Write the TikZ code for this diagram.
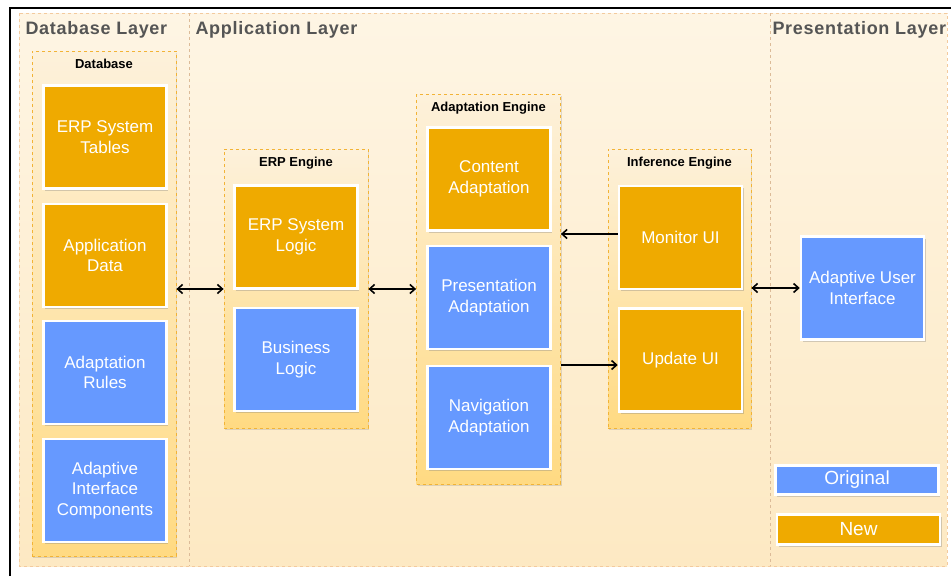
\documentclass[tikz,border=0pt]{standalone}
\usepackage{fontspec}
\setmainfont{Liberation Sans}
\usetikzlibrary{arrows.meta,shadows}

\definecolor{neworange}{HTML}{EFAA00}
\definecolor{origblue}{HTML}{6699FF}
\definecolor{layeredge}{HTML}{F3CA9E}
\definecolor{layertop}{HTML}{FEF5E4}
\definecolor{layerbot}{HTML}{FDE9C3}
\definecolor{engedge}{HTML}{F2B336}
\definecolor{engtop}{HTML}{FDF1DB}
\definecolor{engbot}{HTML}{FFDA82}
\definecolor{titlegray}{HTML}{555555}

\tikzset{
	layertitle/.style={anchor=west, text=titlegray, font=\fontsize{18}{21}\selectfont\bfseries\addfontfeatures{LetterSpace=4}},
	engine/.style={draw=engedge, dashed, thick, top color=engtop, bottom color=engbot, minimum width=144pt,
		drop shadow={shadow xshift=1pt, shadow yshift=-1.5pt, opacity=.25}},
	enginetitle/.style={below, yshift=-5pt, font=\fontsize{13}{15}\selectfont\bfseries},
	unit/.style={draw=white, line width=2.5pt, minimum width=123pt, minimum height=103pt, align=center,
		text=white, font=\fontsize{17}{20.5}\selectfont,
		drop shadow={shadow xshift=1.5pt, shadow yshift=-2pt, opacity=.35}},
	newunit/.style={unit, fill=neworange},
	origunit/.style={unit, fill=origblue},
	link/.style={line width=1.6pt, >={Straight Barb[length=5pt,width=9pt]}}
}

\begin{document}
\begin{tikzpicture}[x=1pt, y=-1pt]
		\useasboundingbox (0,0) rectangle (951,576);
		%frame and layers
		\draw[line width=2.5pt] (10,576) -- (10,8) -- (951,8);
		\path[top color=layertop, bottom color=layerbot] (19,13) rectangle (947,566);
		\draw[layeredge, dashed, thick] (19,13) rectangle (947,566);
		\foreach \x in {189, 770}{
			\draw[layeredge!80!gray, dashed] (\x,13)--(\x,566);
		}
		\node[layertitle] (dblayer) at (22,30){Database Layer};
		\node[layertitle] (applayer) at (192,30){Application Layer};
		\node[layertitle] (prelayer) at (769,30){Presentation Layer};
		
		%engines
		\node[engine, minimum height=505pt] (db) at (104,303.5){};
		\node[engine, minimum height=279pt] (erp) at (296,288.5){};
		\node[engine, minimum height=390pt] (adapt) at (488.5,289){};
		\node[engine, minimum width=143pt, minimum height=279pt] (infer) at (679.5,288.5){};
		\node[enginetitle] (dbtitle) at (db.north){Database};
		\node[enginetitle] (erptitle) at (erp.north){ERP Engine};
		\node[enginetitle] (adapttitle) at (adapt.north){Adaptation Engine};
		\node[enginetitle] (infertitle) at (infer.north){Inference Engine};
		
		%units
		\node[newunit] (tables) at (105,137){ERP System\\Tables};
		\node[newunit] (appdata) at (105,255.5){Application\\Data};
		\node[origunit] (rules) at (105,372.5){Adaptation\\Rules};
		\node[origunit] (components) at (105,490.5){Adaptive\\Interface\\Components};
		\node[newunit] (erplogic) at (296,237){ERP System\\Logic};
		\node[origunit] (business) at (296,359.5){Business\\Logic};
		\node[newunit] (content) at (489,179){Content\\Adaptation};
		\node[origunit] (presentation) at (489,297.5){Presentation\\Adaptation};
		\node[origunit] (navigation) at (489,417.5){Navigation\\Adaptation};
		\node[newunit] (monitor) at (680.5,237.5){Monitor UI};
		\node[newunit] (update) at (680.5,360){Update UI};
		\node[origunit] (aui) at (862.5,288){Adaptive User\\Interface};
		
		%legend
		\node[origunit, minimum width=163pt, minimum height=29pt, font=\fontsize{19}{22}\selectfont] (original) at (857,480){Original};
		\node[newunit, minimum width=163pt, minimum height=30pt, font=\fontsize{19}{22}\selectfont] (new) at (858.5,529.5){New};
		
		%connectors
		\draw[link, <->] (erp.west |- 0,289) -- (db.east |- 0,289);
		\draw[link, <->] (erp.east |- 0,289) -- (adapt.west |- 0,289);
		\draw[link, <->] (infer.east |- aui.west) -- (aui.west);
		\draw[link, ->] (monitor.west |- 0,234) -- (adapt.east |- 0,234);
		\draw[link, ->] (adapt.east |- 0,365) -- (update.west |- 0,365);
		\end{tikzpicture}
\end{document}
